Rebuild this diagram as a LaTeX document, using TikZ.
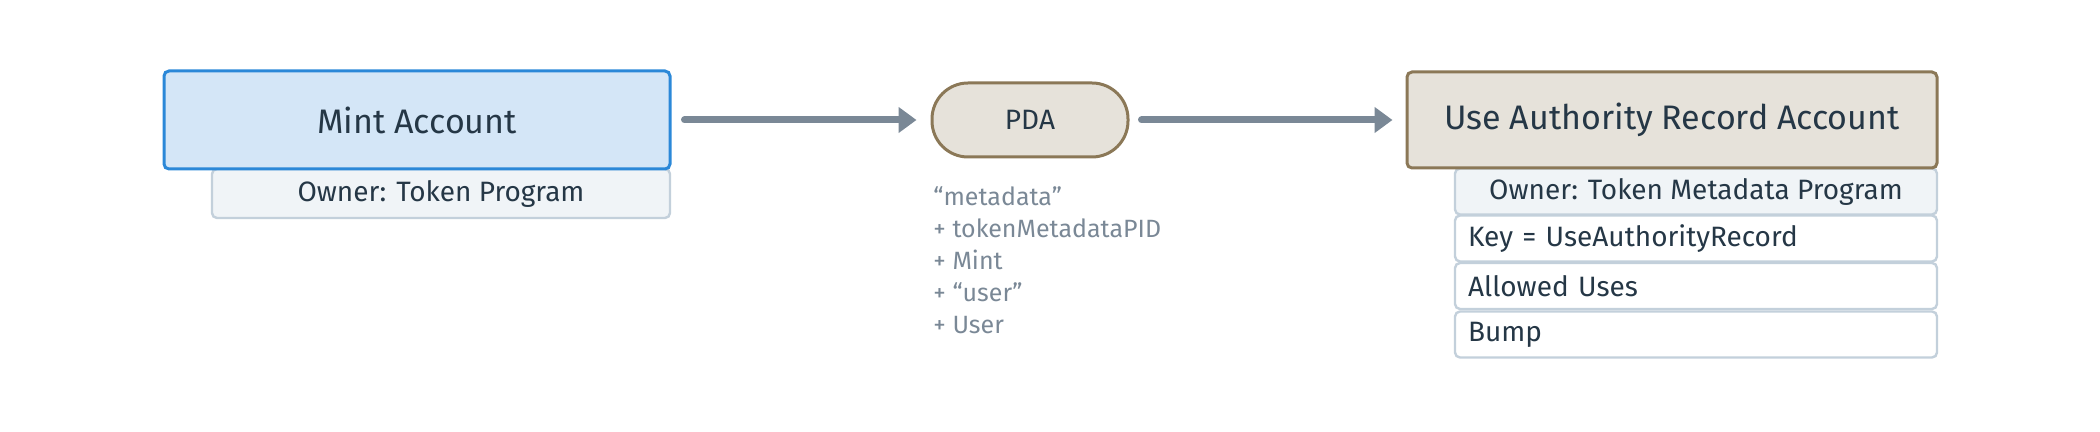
\documentclass[tikz,border=0pt]{standalone}
\usepackage{fontspec}
\setmainfont{Fira Sans}
\usetikzlibrary{arrows.meta}
\definecolor{txt}{HTML}{253746}
\definecolor{gtxt}{HTML}{7A8896}
\definecolor{arr}{HTML}{7A8896}
\definecolor{mintfill}{HTML}{D4E6F7}
\definecolor{mintdraw}{HTML}{2B88D8}
\definecolor{fieldfill}{HTML}{F0F4F7}
\definecolor{fielddraw}{HTML}{C3D0DB}
\definecolor{pdafill}{HTML}{E6E2DA}
\definecolor{pdadraw}{HTML}{8B7857}
\tikzset{
  mainbox/.style={rectangle, rounded corners=2.5pt, line width=1.5pt, text=txt,
    font=\fontsize{17}{20}\selectfont, inner sep=0pt},
  fieldbox/.style={rectangle, rounded corners=2.5pt, line width=1.2pt, draw=fielddraw,
    text=txt, font=\fontsize{14}{16}\selectfont, inner sep=0pt,
    minimum width=241pt, minimum height=23pt},
  leftfield/.style={fieldbox, fill=white, text width=228pt, align=left},
  flow/.style={draw=arr, line width=3.5pt, line cap=round,
    -{Triangle[length=9pt,width=12.5pt]}},
}
\begin{document}
\begin{tikzpicture}[x=0.5pt,y=-0.5pt]
\useasboundingbox (0,0) rectangle (2100,432);
% Mint
\node[fieldbox, fill=fieldfill, minimum width=229pt, minimum height=24.5pt] (mintown) at (441,193.5) {Owner: Token Program};
\node[mainbox, fill=mintfill, draw=mintdraw, minimum width=253pt, minimum height=49pt] (mint) at (417,120) {Mint Account};
% PDA
\node[rectangle, rounded corners=18pt, line width=1.5pt, fill=pdafill, draw=pdadraw,
  minimum width=98pt, minimum height=37pt, inner sep=0pt, text=txt,
  font=\fontsize{14}{16}\selectfont] (pda) at (1030,120) {PDA};
\node[anchor=north west, inner sep=0pt, align=left, text=gtxt,
  font=\fontsize{12.5}{16}\selectfont] (seeds) at (933,186)
  {“metadata”\\+ tokenMetadataPID\\+ Mint\\+ “user”\\+ User};
% UAR
\node[fieldbox, fill=fieldfill] (f1) at (1696,191.5) {Owner: Token Metadata Program};
\node[leftfield] (f2) at (1696,238.5) {Key = UseAuthorityRecord};
\node[leftfield] (f3) at (1696,286) {Allowed Uses};
\node[leftfield] (f4) at (1696,334.5) {Bump};
\node[mainbox, fill=pdafill, draw=pdadraw, minimum width=265pt, minimum height=48pt] (uar) at (1672,120) {Use Authority Record Account};
% arrows
\draw[flow, shorten <=6.5pt, shorten >=7pt] (mint.east) -- (pda.west);
\draw[flow, shorten <=6pt, shorten >=6.5pt] (pda.east) -- (uar.west);
\end{tikzpicture}
\end{document}
